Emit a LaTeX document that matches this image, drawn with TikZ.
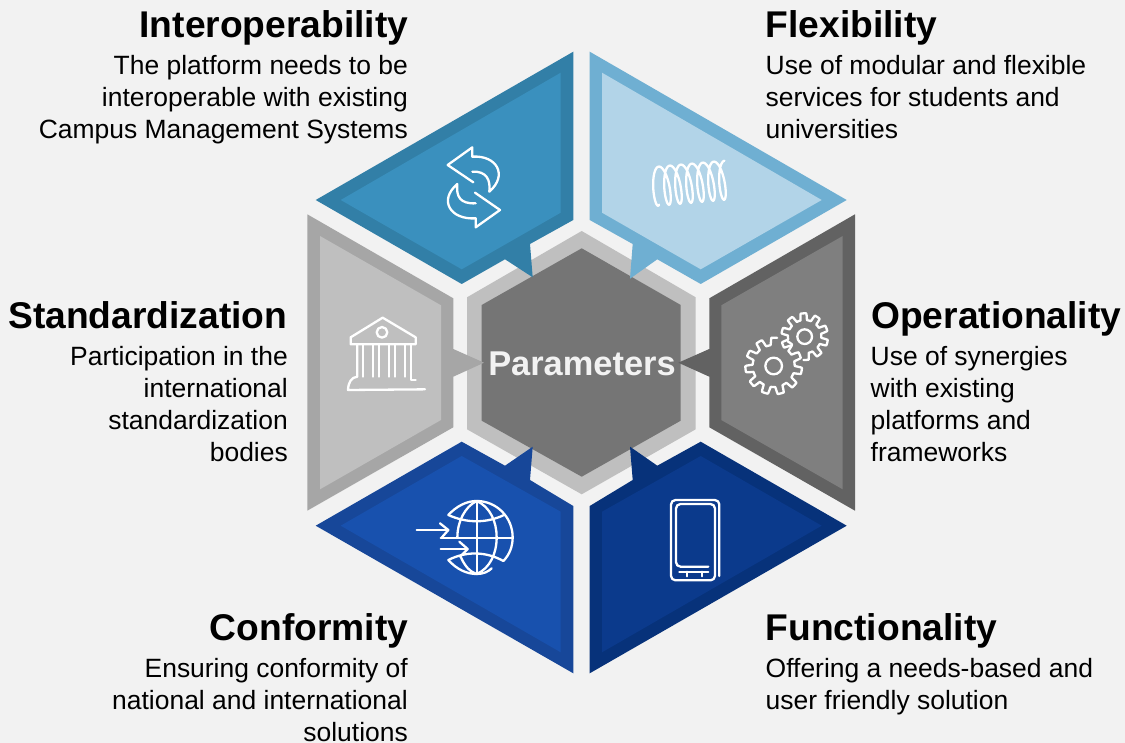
\documentclass[tikz,border=0pt]{standalone}
\usepackage{fontspec}
\setmainfont{Liberation Sans}
\definecolor{bg}{HTML}{F2F2F2}
\definecolor{ioA}{HTML}{3A90BE}\definecolor{ioB}{HTML}{327FA7}
\definecolor{flA}{HTML}{B2D4E8}\definecolor{flB}{HTML}{6FAFD2}
\definecolor{stA}{HTML}{BFBFBF}\definecolor{stB}{HTML}{A6A6A6}
\definecolor{opA}{HTML}{7F7F7F}\definecolor{opB}{HTML}{626262}
\definecolor{coA}{HTML}{1851AE}\definecolor{coB}{HTML}{174799}
\definecolor{fuA}{HTML}{0B3A8C}\definecolor{fuB}{HTML}{07327A}
\definecolor{hexA}{HTML}{757575}
\newcommand{\fl}{\rule{0pt}{20pt}}
\tikzset{
  title/.style={font=\fontsize{37.2}{40}\selectfont\bfseries,inner sep=0pt,text=black},
  tl/.style={title,anchor=base east},
  tr/.style={title,anchor=base west},
  body/.style={font=\fontsize{26.45}{32}\selectfont,inner sep=0pt,text=black},
  bl/.style={body,anchor=north east,align=right},
  br/.style={body,anchor=north west,align=left},
  icon/.style={draw=white,line width=2.3pt,line join=round,line cap=round,fill=none},
  zoomat/.style 2 args={shift={(#1pt,-#2pt)},x=0.33333pt,y=-0.33333pt}
}
\begin{document}
\begin{tikzpicture}[x=1pt,y=-1pt]
\useasboundingbox (0,0) rectangle (1125,743);
\fill[bg] (0,0) rectangle (1125,743);
% centre hexagon
\fill[stA] (581.7,231) -- (695.7,297.3) -- (695.7,429.3) -- (581.7,494.3) -- (467,429.3) -- (467,297.3) -- cycle;
\fill[hexA] (581.7,248.3) -- (680.7,305) -- (680.7,420.7) -- (581.7,476.7) -- (481.7,420.7) -- (481.7,305) -- cycle;
% interoperability
\fill[ioB] (573.3,51.7) -- (315.7,200) -- (461.7,284) -- (505,259.3) -- (532.7,277.3) -- (530,244) -- (573.3,220) -- cycle;
\fill[ioA] (560.7,72.7) -- (340.7,200) -- (461.7,269.3) -- (560.7,212.7) -- cycle;
% flexibility
\fill[flB] (589.7,51.7) -- (846.7,200) -- (700.7,284) -- (657.3,259.3) -- (630,278.7) -- (632.7,244) -- (589.7,220) -- cycle;
\fill[flA] (602,72.7) -- (821.7,200) -- (700.7,269.3) -- (602,212.7) -- cycle;
% standardization
\fill[stB] (307.3,214.3) -- (453.3,298.3) -- (453.3,349) -- (484,362.7) -- (453.3,376.7) -- (453.3,427.3) -- (307.3,510.7) -- cycle;
\fill[stA] (320,236) -- (441,305.3) -- (441,420) -- (320,489.3) -- cycle;
% operationality
\fill[opB] (855,214.3) -- (709.3,298.3) -- (709.3,349) -- (678.3,362.7) -- (709.3,376.7) -- (709.3,427.3) -- (855,510.7) -- cycle;
\fill[opA] (842.7,236) -- (721.3,305.3) -- (721.3,420) -- (842.7,489.3) -- cycle;
% conformity
\fill[coB] (461.7,441.7) -- (505,465.7) -- (532.7,446.7) -- (530,480) -- (573.3,506) -- (573.3,673.3) -- (315.7,525.7) -- cycle;
\fill[coA] (461.7,456) -- (560.7,511.7) -- (560.7,652.3) -- (340.7,525.7) -- cycle;
% functionality
\fill[fuB] (700.7,441.7) -- (846.7,525.7) -- (589.7,673.3) -- (589.7,506) -- (632.7,480) -- (630,446.7) -- (657.3,465.7) -- cycle;
\fill[fuA] (700.7,456) -- (821.7,525.7) -- (602,652.3) -- (602,511.7) -- cycle;
% icon: arrows
\begin{scope}[zoomat={300}{40}]
\draw[icon] (520,427) -- (443,375) -- (517,322) -- (517,350) .. controls (590,345) and (625,405) .. (568,455) .. controls (572,420) and (560,393) .. (517,395);
\draw[icon] (525,458) -- (600,510) -- (527,562) -- (527,535) .. controls (450,540) and (415,480) .. (472,432) .. controls (468,470) and (480,492) .. (527,490);
\end{scope}
% icon: spring
\begin{scope}[zoomat={580}{40}]
\draw[icon] plot[domain=70:2425,samples=400,smooth,variable=\t] ({219+0.09167*\t+16*cos(\t)+6.75*sin(\t)},{440-0.00825*\t+58*sin(\t)});
\end{scope}
% icon: bank
\begin{scope}[zoomat={300}{210}]
\draw[icon] (152,403) -- (152,382) -- (248,323) -- (347,382) -- (347,403) -- cycle;
\draw[icon] (246,367) circle[radius=16];
\draw[icon] (172,403) -- (172,500) .. controls (155,502) and (145,515) .. (144,540) -- (375,538);
\draw[icon] (332,403) -- (332,510) -- (347,510);
\foreach \cx in {188,220,237,268,284,316}{\draw[icon] (\cx,403) -- (\cx,500);}
\end{scope}
% icon: gears
\begin{scope}[zoomat={670}{210}]
\draw[icon] (311,468) circle[radius=25];
\draw[icon] (404,380) circle[radius=22];
\draw[icon] plot[domain=-60:277,samples=260,variable=\t] ({311+(63+22*max(0,min(1,0.5+1.6*cos(11*(\t-10)))))*cos(\t)},{468+(63+22*max(0,min(1,0.5+1.6*cos(11*(\t-10)))))*sin(\t)});
\draw[icon] plot[domain=145:453,samples=240,variable=\t] ({404+(50+20*max(0,min(1,0.5+1.6*cos(10*(\t-15)))))*cos(\t)},{380+(50+20*max(0,min(1,0.5+1.6*cos(10*(\t-15)))))*sin(\t)});
\end{scope}
% icon: globe
\begin{scope}[zoomat={300}{430}]
\draw[icon] (445,255) .. controls (470,228) and (500,213) .. (530,213) .. controls (590,213) and (638,262) .. (638,322) .. controls (638,350) and (628,375) .. (610,393);
\draw[icon] (445,255) .. controls (500,280) and (560,280) .. (612,255);
\draw[icon] (445,390) .. controls (500,362) and (560,365) .. (610,393);
\draw[icon] (445,390) .. controls (470,418) and (500,432) .. (530,432) .. controls (550,432) and (565,425) .. (575,415);
\draw[icon] (422,323) -- (638,323);
\draw[icon] (530,213) -- (530,432);
\draw[icon] (530,213) .. controls (570,230) and (590,275) .. (590,322) .. controls (590,370) and (570,415) .. (530,432);
\draw[icon] (530,213) .. controls (495,230) and (472,275) .. (472,322);
\draw[icon] (482,380) .. controls (495,410) and (510,425) .. (530,432);
\draw[icon] (350,300) -- (442,300);
\draw[icon] (420,280) -- (445,300) -- (425,323);
\draw[icon] (422,357) -- (500,357);
\draw[icon] (478,335) -- (503,357) -- (480,380);
\end{scope}
% icon: phone
\begin{scope}[zoomat={580}{430}]
\draw[icon,rounded corners=4.5pt] (418,438) -- (418,210) -- (273,210) -- (273,451) -- (405,451) -- (405,222) -- (288,222) -- (288,410) -- (385,410);
\draw[icon] (298,425) -- (385,425);
\draw[icon] (322,425) -- (322,439);
\draw[icon] (365,425) -- (365,439);
\end{scope}
% texts
\node[tl] (t1) at (408.5,38) {Interoperability};
\node[bl] (b1) at (408,54) {\fl The platform needs to be\\interoperable with existing\\Campus Management Systems};
\node[tr] (t2) at (765.5,38) {Flexibility};
\node[br] (b2) at (765.5,54) {\fl Use of modular and flexible\\services for students and\\universities};
\node[tl] (t3) at (287.5,329) {Standardization};
\node[bl] (b3) at (288,345) {\fl Participation in the\\international\\standardization\\bodies};
\node[tr] (t4) at (871,329) {Operationality};
\node[br] (b4) at (870.5,345) {\fl Use of synergies\\with existing\\platforms and\\frameworks};
\node[tl] (t5) at (408.5,640) {Conformity};
\node[bl] (b5) at (408,657) {\fl Ensuring conformity of\\national and international\\solutions};
\node[tr] (t6) at (765.5,640) {Functionality};
\node[br] (b6) at (765.5,657) {\fl Offering a needs-based and\\user friendly solution};
\node[anchor=base,inner sep=0pt,text=bg,font=\fontsize{34.4}{36}\selectfont\bfseries] (c) at (582,375) {Parameters};
\end{tikzpicture}
\end{document}
